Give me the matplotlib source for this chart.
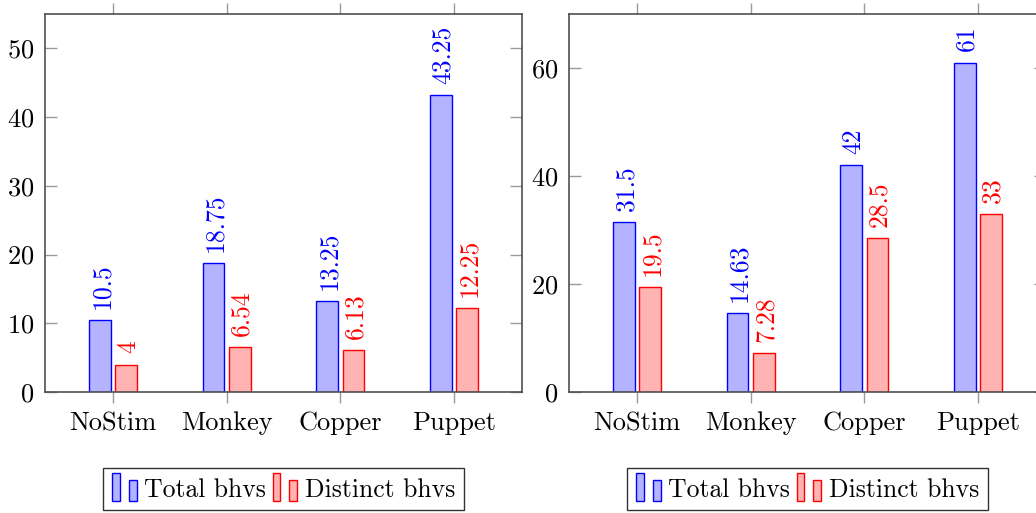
import matplotlib
matplotlib.use('Agg')
import matplotlib.pyplot as plt
from matplotlib.patches import Rectangle
from matplotlib.legend_handler import HandlerBase
import numpy as np

categories = ['NoStim', 'Monkey', 'Copper', 'Puppet']
series_names = ['Total bhvs', 'Distinct bhvs']

# left panel
total_left = [10.5, 18.75, 13.25, 43.25]
distinct_left = [4, 6.54, 6.13, 12.25]
yticks_left = [0, 10, 20, 30, 40, 50]

# right panel
total_right = [31.5, 14.63, 42, 61]
distinct_right = [19.5, 7.28, 28.5, 33]
yticks_right = [0, 20, 40, 60]

plt.rcParams['font.family'] = 'cmr10'
plt.rcParams['axes.formatter.use_mathtext'] = True

BLUE_FILL = '#b3b3ff'
RED_FILL = '#ffb3b3'
AXIS_COLOR = '#505050'
TICK_COLOR = '#9a9a9a'
FS = 19


class BarPairHandler(HandlerBase):
    """pgfplots-style ybar legend image: two little bars."""
    def create_artists(self, legend, orig_handle, xdescent, ydescent,
                       width, height, fontsize, trans):
        fc = orig_handle.get_facecolor()
        ec = orig_handle.get_edgecolor()
        bw = width * 0.32
        y0 = -ydescent - height * 0.1
        r1 = Rectangle((-xdescent, y0), bw, height * 1.25,
                       facecolor=fc, edgecolor=ec, lw=1, transform=trans)
        r2 = Rectangle((-xdescent + width - bw, y0), bw, height * 0.95,
                       facecolor=fc, edgecolor=ec, lw=1, transform=trans)
        return [r1, r2]


def draw_panel(ax, total, distinct, yticks, ymax):
    x = np.arange(len(categories))
    w = 0.19
    b1 = ax.bar(x - 0.115, total, w, facecolor=BLUE_FILL, edgecolor='blue',
                linewidth=1, zorder=2)
    b2 = ax.bar(x + 0.115, distinct, w, facecolor=RED_FILL, edgecolor='red',
                linewidth=1, zorder=2)
    for bars, vals, col in [(b1, total, 'blue'), (b2, distinct, 'red')]:
        for rect, v in zip(bars, vals):
            ax.annotate(f'{v:g}', (rect.get_x() + rect.get_width() / 2, v),
                        xytext=(1.5, 8), textcoords='offset points',
                        rotation=90, ha='center', va='bottom',
                        color=col, fontsize=18.5)

    ax.set_xlim(-0.6, 3.6)
    ax.set_ylim(0, ymax)
    ax.set_xticks(x)
    ax.set_xticklabels(categories)
    ax.set_yticks(yticks)

    for s in ax.spines.values():
        s.set_color(AXIS_COLOR)
        s.set_linewidth(1.2)
    ax.tick_params(axis='x', direction='out', top=True, bottom=True,
                   length=8, width=1, color=TICK_COLOR, pad=6, labelsize=FS)
    ax.tick_params(axis='y', direction='in', left=True, right=True,
                   length=8.5, width=1, color=TICK_COLOR, pad=7.5, labelsize=FS)

    h1 = Rectangle((0, 0), 1, 1, facecolor=BLUE_FILL, edgecolor='blue')
    h2 = Rectangle((0, 0), 1, 1, facecolor=RED_FILL, edgecolor='red')
    leg = ax.legend([h1, h2], series_names, loc='upper center',
                    bbox_to_anchor=(0.5, -0.2), ncol=2, fontsize=18.5,
                    frameon=True, fancybox=False, edgecolor='black',
                    handlelength=0.95, handleheight=0.95, handletextpad=0.3,
                    columnspacing=0.25, borderpad=0.35, borderaxespad=0,
                    handler_map={Rectangle: BarPairHandler()})
    leg.get_frame().set_linewidth(1)


fig = plt.figure(figsize=(10.36, 5.13), dpi=100)
ax1 = fig.add_axes([45 / 1036, 121 / 513, 477 / 1036, 378 / 513])
ax2 = fig.add_axes([569 / 1036, 121 / 513, 477 / 1036, 378 / 513])

draw_panel(ax1, total_left, distinct_left, yticks_left, 55)
draw_panel(ax2, total_right, distinct_right, yticks_right, 70)

fig.savefig('out.png', dpi=100)
